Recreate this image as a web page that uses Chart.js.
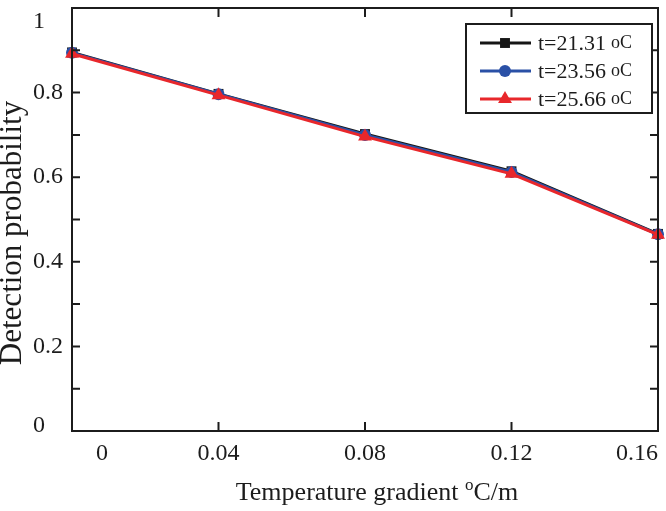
<!DOCTYPE html>
<html>
<head>
<meta charset="utf-8">
<script src="https://cdn.jsdelivr.net/npm/chart.js@4/dist/chart.umd.min.js"></script>
<style>
  html, body { margin: 0; padding: 0; background: #fff; }
  canvas { display: block; }
</style>
</head>
<body>
<canvas id="probChart" width="666" height="511"></canvas>
<script>
// datos
const gradients   = [0, 0.04, 0.08, 0.12, 0.16];
const prob2131    = [0.895, 0.797, 0.702, 0.614, 0.466];
const prob2356    = [0.894, 0.796, 0.700, 0.612, 0.465];
const prob2566    = [0.892, 0.794, 0.696, 0.608, 0.464];
const seriesNames = ['t=21.31', 't=23.56', 't=25.66'];
const xTickLabels = ['0', '0.04', '0.08', '0.12', '0.16'];
const yTickLabels = ['0', '0.2', '0.4', '0.6', '0.8', '1'];

const SERIF = '"Liberation Serif", "Times New Roman", serif';
const INK   = '#1c1c1c';

const toPts = vals => gradients.map((g, i) => ({ x: g, y: vals[i] }));

// ejes, etiquetas y leyenda dibujados a mano (ticks hacia dentro, estilo Origin)
const framePlugin = {
  id: 'frame',
  afterDraw(chart) {
    const { ctx, chartArea: a, scales: { x, y } } = chart;
    ctx.save();
    ctx.strokeStyle = INK;
    ctx.lineWidth = 2;
    ctx.strokeRect(a.left, a.top, a.right - a.left, a.bottom - a.top);

    // ticks hacia dentro
    ctx.beginPath();
    for (let k = 1; k < 10; k++) {
      const py = y.getPixelForValue(k / 10);
      ctx.moveTo(a.left, py);  ctx.lineTo(a.left + 8, py);
      ctx.moveTo(a.right, py); ctx.lineTo(a.right - 8, py);
    }
    for (let k = 1; k < xTickLabels.length - 1; k++) {
      const px = x.getPixelForValue(gradients[k]);
      ctx.moveTo(px, a.bottom); ctx.lineTo(px, a.bottom - 9);
      ctx.moveTo(px, a.top);    ctx.lineTo(px, a.top + 9);
    }
    ctx.stroke();

    // etiquetas de ticks
    ctx.fillStyle = INK;
    ctx.font = '24px ' + SERIF;
    ctx.textAlign = 'left';
    ctx.textBaseline = 'middle';
    yTickLabels.forEach((t, i) => {
      let py = y.getPixelForValue(i * 0.2);
      py = Math.min(Math.max(py, a.top + 14), a.bottom - 5);
      ctx.fillText(t, 33, py);
    });
    ctx.textAlign = 'center';
    ctx.textBaseline = 'alphabetic';
    xTickLabels.forEach((t, i) => {
      const hw = ctx.measureText(t).width / 2;
      let px = x.getPixelForValue(gradients[i]);
      px = Math.min(Math.max(px, a.left + hw + 24), a.right - hw);
      ctx.fillText(t, px, 460);
    });

    // título eje x con superíndice
    const big = '26px ' + SERIF, small = '17px ' + SERIF;
    const p1 = 'Temperature gradient ', p2 = 'o', p3 = 'C/m';
    ctx.font = big;  const w1 = ctx.measureText(p1).width, w3 = ctx.measureText(p3).width;
    ctx.font = small; const w2 = ctx.measureText(p2).width;
    let tx = (a.left + a.right) / 2 + 12 - (w1 + w2 + w3) / 2;
    ctx.textAlign = 'left';
    ctx.font = big;   ctx.fillText(p1, tx, 500); tx += w1;
    ctx.font = small; ctx.fillText(p2, tx, 490); tx += w2;
    ctx.font = big;   ctx.fillText(p3, tx, 500);

    // título eje y
    ctx.save();
    ctx.translate(13, 233);
    ctx.rotate(-Math.PI / 2);
    ctx.textAlign = 'center';
    ctx.textBaseline = 'middle';
    ctx.font = '31px ' + SERIF;
    ctx.fillText('Detection probability', 0, 0);
    ctx.restore();

    // leyenda
    const box = { l: 466, t: 24, r: 652, b: 113 };
    ctx.fillStyle = '#fff';
    ctx.fillRect(box.l, box.t, box.r - box.l, box.b - box.t);
    ctx.strokeStyle = INK;
    ctx.lineWidth = 2;
    ctx.strokeRect(box.l, box.t, box.r - box.l, box.b - box.t);
    const rows = [43, 71, 99];
    [0, 1, 2].forEach(i => {
      const ds = chart.data.datasets[i];
      const ry = rows[i];
      ctx.strokeStyle = ds.borderColor;
      ctx.lineWidth = 3;
      ctx.beginPath(); ctx.moveTo(480, ry); ctx.lineTo(531, ry); ctx.stroke();
      ctx.fillStyle = ds.backgroundColor;
      Chart.helpers.drawPoint(ctx, { pointStyle: ds.pointStyle, radius: ds.pointRadius, borderWidth: 0 }, 505, ry);
      ctx.fillStyle = INK;
      ctx.textBaseline = 'middle';
      ctx.font = '22px ' + SERIF;
      ctx.fillText(ds.label, 538, ry + 1);
      const lw = ctx.measureText(ds.label).width;
      ctx.font = '18px ' + SERIF;
      ctx.fillText('oC', 538 + lw + 5, ry);
    });
    ctx.restore();
  }
};

const mk = (label, vals, color, style, r, order) => ({
  label, data: toPts(vals),
  borderColor: color, backgroundColor: color,
  borderWidth: 3, pointStyle: style, pointRadius: r, pointBorderWidth: 0,
  pointHoverRadius: r, order, clip: false
});

new Chart(document.getElementById('probChart'), {
  type: 'line',
  data: {
    datasets: [
      mk(seriesNames[0], prob2131, '#161616', 'rect', 7, 3),
      mk(seriesNames[1], prob2356, '#2a50a6', 'circle', 6, 2),
      mk(seriesNames[2], prob2566, '#e8272b', 'triangle', 8, 1)
    ]
  },
  options: {
    responsive: false,
    animation: false,
    layout: { padding: { top: 1, right: 6, left: 0, bottom: 0 } },
    plugins: { legend: { display: false }, tooltip: { enabled: false } },
    scales: {
      x: {
        type: 'linear', min: 0, max: 0.16,
        grid: { display: false, drawTicks: false },
        border: { display: false },
        ticks: { display: false, stepSize: 0.04 },
        afterFit: s => { s.height = 80; }
      },
      y: {
        min: 0, max: 1,
        grid: { display: false, drawTicks: false },
        border: { display: false },
        ticks: { display: false, stepSize: 0.2 },
        afterFit: s => { s.width = 72; }
      }
    }
  },
  plugins: [framePlugin]
});
</script>
</body>
</html>
